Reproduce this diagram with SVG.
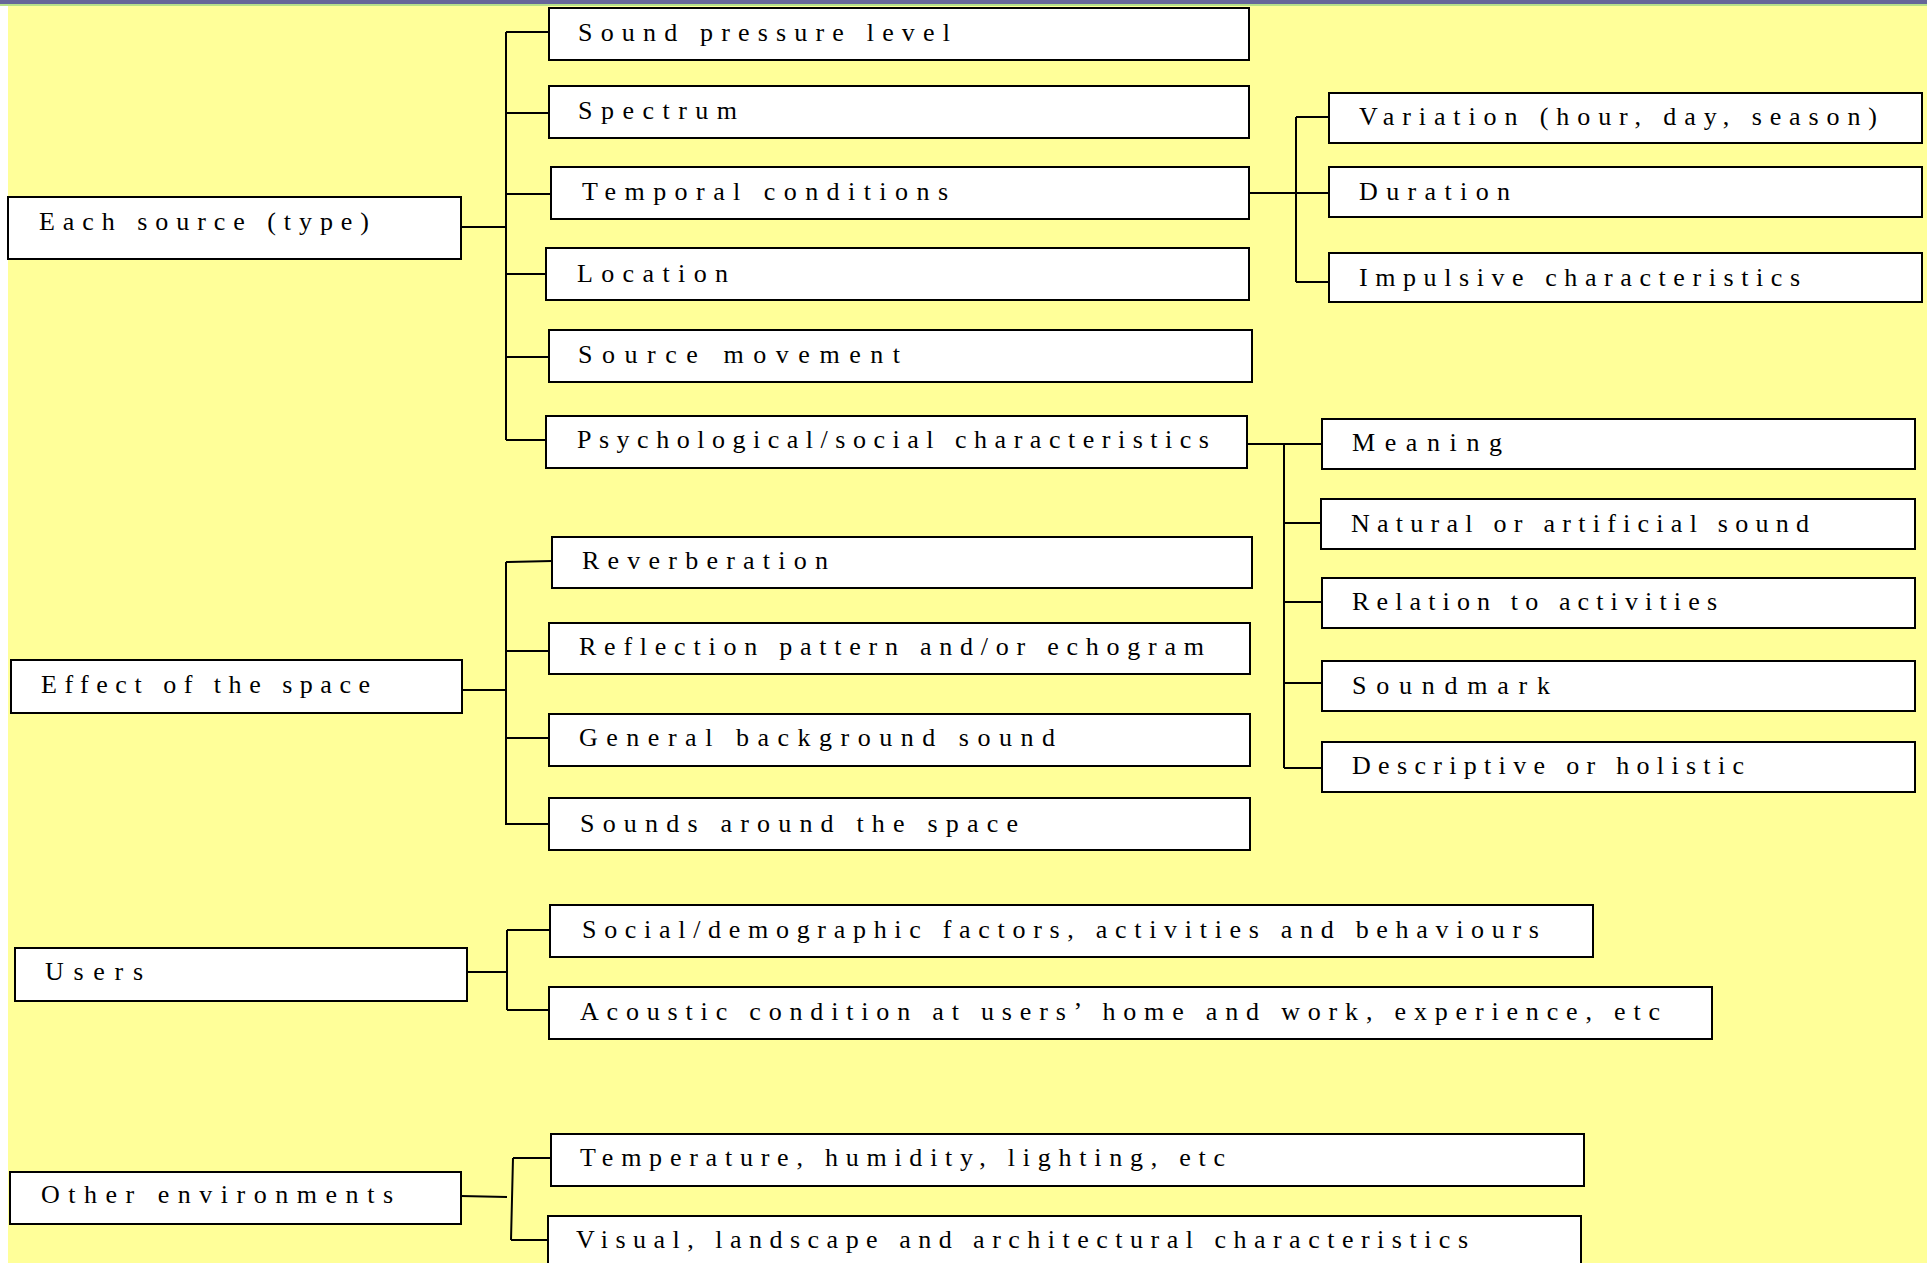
<svg xmlns="http://www.w3.org/2000/svg" width="1927" height="1263" viewBox="0 0 1927 1263">
<style>
.bg{fill:#FFFF99}
.box{fill:#FFFFFF;stroke:#000000;stroke-width:2}
.lbl{font-family:"Liberation Serif","Times New Roman",serif;font-size:26px;fill:#000000}
.conn{fill:none;stroke:#000000;stroke-width:2}
</style>
<rect x="0" y="0" width="1927" height="1263" fill="#FFFFFF"/>
<rect class="bg" x="8" y="0" width="1919" height="1263"/>
<rect x="0" y="0" width="1927" height="4" fill="#666699"/>
<rect x="0" y="4" width="1927" height="2" fill="#B5E08A"/>
<g id="connectors">
<path class="conn" d="M461,227 H506 M506,32 V440 M506,32 H549 M506,113 H549 M506,194 H551 M506,274 H546 M506,357 H549 M506,440 H546"/>
<path class="conn" d="M1249,193 H1329 M1296,117 V282 M1296,117 H1329 M1296,282 H1329"/>
<path class="conn" d="M1247,444 H1322 M1284,443 V768 M1284,523 H1321 M1284,602 H1322 M1284,683 H1322 M1284,768 H1322"/>
<path class="conn" d="M462,690 H506 M506,562 V825 M506,562 L552,561 M506,651 H549 M506,738 H549 M506,824 H549"/>
<path class="conn" d="M467,972 H507 M507,930 V1010 M507,930 H550 M507,1010 H549"/>
<path class="conn" d="M461,1196 L507,1197 M513,1158 L511,1240 M513,1158 H551 M511,1240 H548"/>
</g>
<g id="n_each"><rect class="box" x="8" y="197" width="453" height="62"/><text class="lbl" x="39" y="230" textLength="330" lengthAdjust="spacing">Each source (type)</text></g>
<g id="n_effect"><rect class="box" x="11" y="660" width="451" height="53"/><text class="lbl" x="41" y="693" textLength="329" lengthAdjust="spacing">Effect of the space</text></g>
<g id="n_users"><rect class="box" x="15" y="948" width="452" height="53"/><text class="lbl" x="45" y="980" textLength="98" lengthAdjust="spacing">Users</text></g>
<g id="n_other"><rect class="box" x="10" y="1172" width="451" height="52"/><text class="lbl" x="41" y="1203" textLength="352" lengthAdjust="spacing">Other environments</text></g>
<g id="n_spl"><rect class="box" x="549" y="8" width="700" height="52"/><text class="lbl" x="578" y="41" textLength="372" lengthAdjust="spacing">Sound pressure level</text></g>
<g id="n_spectrum"><rect class="box" x="549" y="86" width="700" height="52"/><text class="lbl" x="578" y="119" textLength="159" lengthAdjust="spacing">Spectrum</text></g>
<g id="n_temporal"><rect class="box" x="551" y="167" width="698" height="52"/><text class="lbl" x="582" y="200" textLength="366" lengthAdjust="spacing">Temporal conditions</text></g>
<g id="n_location"><rect class="box" x="546" y="248" width="703" height="52"/><text class="lbl" x="577" y="282" textLength="151" lengthAdjust="spacing">Location</text></g>
<g id="n_movement"><rect class="box" x="549" y="330" width="703" height="52"/><text class="lbl" x="578" y="363" textLength="322" lengthAdjust="spacing">Source movement</text></g>
<g id="n_psych"><rect class="box" x="546" y="416" width="701" height="52"/><text class="lbl" x="577" y="448" textLength="632" lengthAdjust="spacing">Psychological/social characteristics</text></g>
<g id="n_reverb"><rect class="box" x="552" y="537" width="700" height="51"/><text class="lbl" x="582" y="569" textLength="246" lengthAdjust="spacing">Reverberation</text></g>
<g id="n_reflection"><rect class="box" x="549" y="623" width="701" height="51"/><text class="lbl" x="579" y="655" textLength="625" lengthAdjust="spacing">Reflection pattern and/or echogram</text></g>
<g id="n_background"><rect class="box" x="549" y="714" width="701" height="52"/><text class="lbl" x="579" y="746" textLength="476" lengthAdjust="spacing">General background sound</text></g>
<g id="n_around"><rect class="box" x="549" y="798" width="701" height="52"/><text class="lbl" x="580" y="832" textLength="438" lengthAdjust="spacing">Sounds around the space</text></g>
<g id="n_social"><rect class="box" x="550" y="905" width="1043" height="52"/><text class="lbl" x="582" y="938" textLength="957" lengthAdjust="spacing">Social/demographic factors, activities and behaviours</text></g>
<g id="n_acoustic"><rect class="box" x="549" y="987" width="1163" height="52"/><text class="lbl" x="580" y="1020" textLength="1080" lengthAdjust="spacing">Acoustic condition at users’ home and work, experience, etc</text></g>
<g id="n_temperature"><rect class="box" x="551" y="1134" width="1033" height="52"/><text class="lbl" x="580" y="1166" textLength="645" lengthAdjust="spacing">Temperature, humidity, lighting, etc</text></g>
<g id="n_visual"><rect class="box" x="548" y="1216" width="1033" height="60"/><text class="lbl" x="576" y="1248" textLength="892" lengthAdjust="spacing">Visual, landscape and architectural characteristics</text></g>
<g id="n_variation"><rect class="box" x="1329" y="93" width="593" height="50"/><text class="lbl" x="1359" y="125" textLength="518" lengthAdjust="spacing">Variation (hour, day, season)</text></g>
<g id="n_duration"><rect class="box" x="1329" y="167" width="593" height="50"/><text class="lbl" x="1359" y="200" textLength="151" lengthAdjust="spacing">Duration</text></g>
<g id="n_impulsive"><rect class="box" x="1329" y="253" width="593" height="49"/><text class="lbl" x="1359" y="286" textLength="441" lengthAdjust="spacing">Impulsive characteristics</text></g>
<g id="n_meaning"><rect class="box" x="1322" y="419" width="593" height="50"/><text class="lbl" x="1352" y="451" textLength="150" lengthAdjust="spacing">Meaning</text></g>
<g id="n_natural"><rect class="box" x="1321" y="499" width="594" height="50"/><text class="lbl" x="1351" y="532" textLength="458" lengthAdjust="spacing">Natural or artificial sound</text></g>
<g id="n_relation"><rect class="box" x="1322" y="578" width="593" height="50"/><text class="lbl" x="1352" y="610" textLength="365" lengthAdjust="spacing">Relation to activities</text></g>
<g id="n_soundmark"><rect class="box" x="1322" y="661" width="593" height="50"/><text class="lbl" x="1352" y="694" textLength="198" lengthAdjust="spacing">Soundmark</text></g>
<g id="n_descriptive"><rect class="box" x="1322" y="742" width="593" height="50"/><text class="lbl" x="1352" y="774" textLength="392" lengthAdjust="spacing">Descriptive or holistic</text></g>
</svg>
